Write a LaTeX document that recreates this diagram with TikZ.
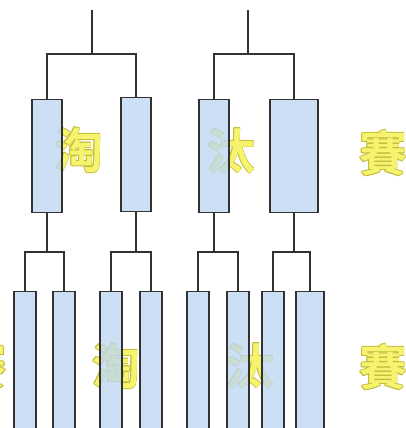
\documentclass[tikz,border=0pt]{standalone}
\usepackage{fontspec}
\newfontfamily\cjk{Noto Sans CJK TC Bold}
\definecolor{boxfill}{RGB}{190,215,242}
\definecolor{lineclr}{RGB}{50,50,50}
\definecolor{txtfill}{RGB}{246,244,110}
\definecolor{txtedge}{RGB}{196,190,60}
\tikzset{
  x=1pt, y=-1pt,
  seat/.style={draw=lineclr, line width=1.2pt, fill=boxfill, fill opacity=0.78, draw opacity=1, minimum width=#1, inner sep=0pt, anchor=north},
  wire/.style={draw=lineclr, line width=1.2pt},
  glyphedge/.style={text=txtedge, font=\cjk\fontsize{48}{48}\selectfont, inner sep=0pt},
  glyph/.style={text=txtfill, font=\cjk\fontsize{48}{48}\selectfont, inner sep=0pt}
}
\newcommand{\outlinedglyph}[3]{%
  \foreach \dx/\dy in {-0.8/0,0.8/0,0/-0.8,0/0.8,-0.6/-0.6,0.6/0.6,-0.6/0.6,0.6/-0.6}{
    \node[glyphedge] at ($(#1,#2)+(\dx,\dy)$) {#3};}
  \node[glyph] at (#1,#2) {#3};}
\usetikzlibrary{calc}
\begin{document}
\begin{tikzpicture}
\useasboundingbox (0,0) rectangle (405,428);
\clip (0,0) rectangle (405,428);
\fill[white] (0,0) rectangle (405,428);
% texts (behind boxes)
\outlinedglyph{79}{150}{淘}
\outlinedglyph{231}{151}{汰}
\outlinedglyph{383}{153}{賽}
\outlinedglyph{-17}{366}{賽}
\outlinedglyph{116}{366}{淘}
\outlinedglyph{250}{366}{汰}
\outlinedglyph{383}{367}{賽}
% top row seats
\node[seat=30pt, minimum height=113pt] (t1) at (47,99) {};
\node[seat=30pt, minimum height=114pt] (t2) at (136,97) {};
\node[seat=30pt, minimum height=113pt] (t3) at (214,99) {};
\node[seat=48pt, minimum height=113pt] (t4) at (294,99) {};
% bottom row seats
\node[seat=22pt, minimum height=160pt] (b1) at (25,291) {};
\node[seat=22pt, minimum height=160pt] (b2) at (64,291) {};
\node[seat=22pt, minimum height=160pt] (b3) at (111,291) {};
\node[seat=22pt, minimum height=160pt] (b4) at (151,291) {};
\node[seat=22pt, minimum height=160pt] (b5) at (198,291) {};
\node[seat=22pt, minimum height=160pt] (b6) at (238,291) {};
\node[seat=22pt, minimum height=160pt] (b7) at (273,291) {};
\node[seat=28pt, minimum height=160pt] (b8) at (310,291) {};
% top brackets
\coordinate (r1) at (92,10);
\coordinate (j1) at (92,54);
\coordinate (r2) at (248,10);
\coordinate (j2) at (248,54);
\draw[wire] (r1) -- (j1);
\draw[wire] (t1.north) |- (j1) -| (t2.north);
\draw[wire] (r2) -- (j2);
\draw[wire] (t3.north) |- (j2) -| (t4.north);
% lower brackets
\foreach \t/\l/\r in {t1/b1/b2, t2/b3/b4, t3/b5/b6, t4/b7/b8}{
  \coordinate (k\t) at (\t.south |- 0,252);
  \draw[wire] (\t.south) -- (k\t);
  \draw[wire] (\l.north) |- (k\t) -| (\r.north);
}
\end{tikzpicture}
\end{document}
